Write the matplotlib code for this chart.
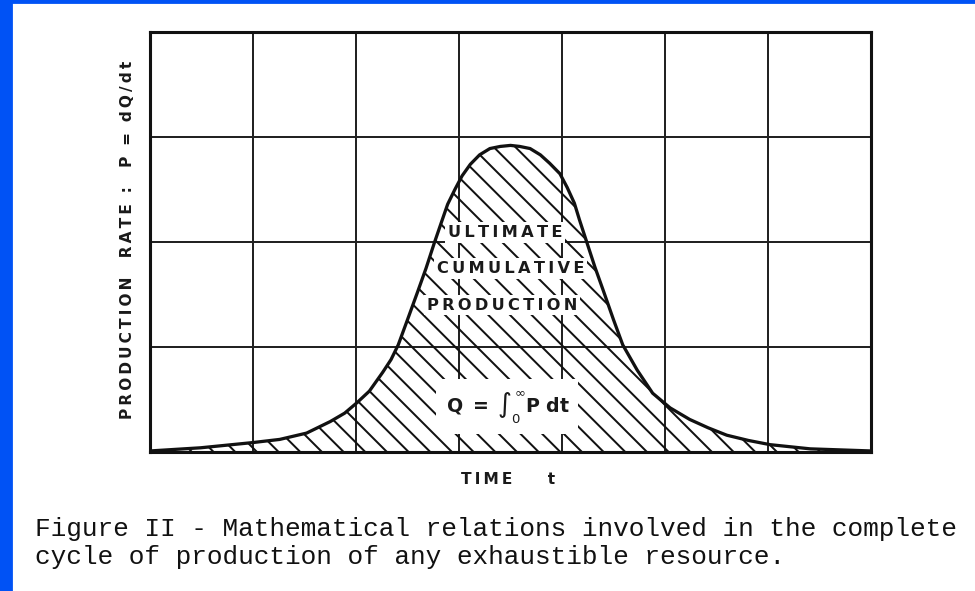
import matplotlib.pyplot as plt
import numpy as np

# Points (time in grid units, rate in grid units)
time_t = [0.00, 0.49, 1.00, 1.26, 1.52, 1.75, 1.89, 2.01, 2.13, 2.26, 2.34, 2.41,
          2.50, 2.60, 2.68, 2.76, 2.83, 2.89, 2.96, 3.03, 3.11, 3.20, 3.30, 3.40,
          3.50, 3.59, 3.69, 3.79, 3.88, 3.98, 4.05, 4.12, 4.17, 4.24, 4.32, 4.40,
          4.50, 4.59, 4.73, 4.88, 5.05, 5.24, 5.42, 5.60, 5.81, 6.02, 6.41, 7.00]
rate_p = [0.01, 0.04, 0.09, 0.12, 0.18, 0.29, 0.37, 0.47, 0.58, 0.76, 0.88, 1.02,
          1.26, 1.53, 1.75, 1.99, 2.19, 2.36, 2.50, 2.63, 2.74, 2.83, 2.89, 2.91,
          2.92, 2.91, 2.89, 2.83, 2.75, 2.65, 2.52, 2.37, 2.21, 2.00, 1.76, 1.54,
          1.26, 1.02, 0.78, 0.56, 0.42, 0.31, 0.23, 0.16, 0.11, 0.07, 0.03, 0.01]

area_words = ['ULTIMATE', 'CUMULATIVE', 'PRODUCTION']
word_x = [3.45, 3.50, 3.42]
word_y = [2.09, 1.75, 1.40]

ylabel = 'PRODUCTION  RATE :  P = dQ/dt'
xlabel = 'TIME    t'
caption = ('Figure II - Mathematical relations involved in the complete\n'
           'cycle of production of any exhaustible resource.')

TS = '\u2009'  # thin space for the letter spacing of the hand lettering


def spaced(s):
    return TS.join(s).replace(TS + ' ' + TS, '  ')


fig = plt.figure(figsize=(7.5, 591 / 130), dpi=130)
plt.rcParams['hatch.linewidth'] = 1.1

# blue slide border on the left and top
fig.patches.append(plt.Rectangle((0, 0), 12 / 975, 1, transform=fig.transFigure,
                                 color='#0052f5', zorder=0))
fig.patches.append(plt.Rectangle((0, 1 - 3 / 591), 1, 3 / 591, transform=fig.transFigure,
                                 color='#0052f5', zorder=0))

ax = fig.add_axes([150 / 975, 1 - 452 / 591, 721 / 975, 420 / 591])
ax.set_xlim(0, 7)
ax.set_ylim(0, 4)
ax.set_xticks(range(8))
ax.set_yticks(range(5))
ax.tick_params(length=0, labelbottom=False, labelleft=False)
ax.grid(True, color='#222222', linewidth=1.1)
ax.set_axisbelow(True)
for s in ax.spines.values():
    s.set_linewidth(1.7)
    s.set_color('#111111')

# hatched area under the curve
ax.fill_between(time_t, 0, rate_p, facecolor='none', edgecolor='#111111',
                hatch='\\\\', linewidth=0, zorder=2)
ax.plot(time_t, rate_p, color='#111111', linewidth=1.8, zorder=5,
        solid_capstyle='round', solid_joinstyle='round')

box = dict(facecolor='white', edgecolor='none', pad=1.5)
for w, x, y in zip(area_words, word_x, word_y):
    ax.text(x, y, spaced(w), ha='center', va='center', fontsize=9,
            fontweight='bold', family='DejaVu Sans', color='#1a1a1a',
            bbox=box, zorder=4)

ax.text(3.47, 0.43, r'$\mathbf{Q}\ \mathbf{=}\ \int_{0}^{\infty}\mathbf{P\ dt}$',
        ha='center', va='center', fontsize=10.5, color='#1a1a1a',
        bbox=dict(facecolor='white', edgecolor='none', pad=5), zorder=4)

fig.text(128 / 975, 1 - 240 / 591, spaced(ylabel), rotation=90,
         ha='center', va='center', fontsize=8.5, fontweight='bold', color='#1a1a1a')
fig.text(508 / 975, 1 - 480 / 591, spaced(xlabel), ha='center', va='center',
         fontsize=8.5, fontweight='bold', color='#1a1a1a')

fig.text(35 / 975, 1 - 543 / 591, caption, ha='left', va='center',
         fontsize=14.5, family='Liberation Mono', color='#111111', linespacing=1.2)

fig.savefig('out.png', dpi=130)
